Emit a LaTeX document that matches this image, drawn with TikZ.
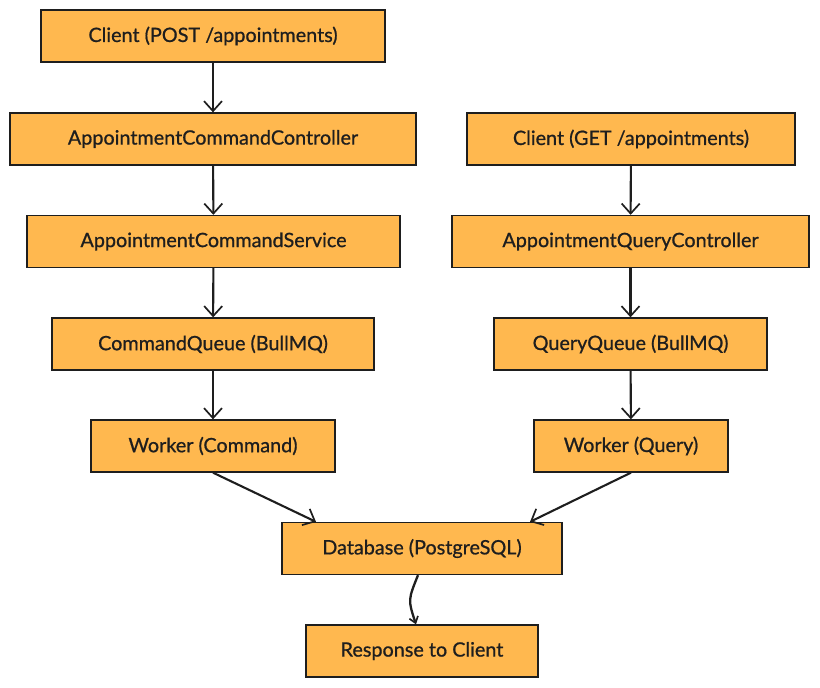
\documentclass[tikz,border=0pt]{standalone}
\usepackage{fontspec}
\newfontfamily\boxfont{Lato}[FakeBold=0.8]
\usetikzlibrary{arrows.meta}
\definecolor{boxfill}{HTML}{FFB84F}
\definecolor{ink}{HTML}{1E1E1E}
\tikzset{
  flowbox/.style={draw=ink, line width=1.3pt, fill=boxfill, minimum height=52pt, inner sep=0pt, text=ink, font=\boxfont\fontsize{19.8}{23}\selectfont},
  flowarrow/.style={draw=ink, line width=2.1pt, -{Straight Barb[length=10pt,width=18pt,line width=1.7pt]}},
}
\begin{document}
\begin{tikzpicture}[x=1pt,y=-1pt]
\useasboundingbox (0,0) rectangle (820,688);
\node[flowbox, minimum width=344pt] (c1) at (213,36) {Client (POST /appointments)};
\node[flowbox, minimum width=406pt] (cc) at (213,139) {AppointmentCommandController};
\node[flowbox, minimum width=328pt] (c2) at (631,139) {Client (GET /appointments)};
\node[flowbox, minimum width=373pt] (cs) at (213.5,241.5) {AppointmentCommandService};
\node[flowbox, minimum width=357pt] (qc) at (630.5,241.5) {AppointmentQueryController};
\node[flowbox, minimum width=322pt] (cq) at (213,344) {CommandQueue (BullMQ)};
\node[flowbox, minimum width=273pt] (qq) at (630.5,344) {QueryQueue (BullMQ)};
\node[flowbox, minimum width=244pt] (wc) at (213,446) {Worker (Command)};
\node[flowbox, minimum width=194pt] (wq) at (631,446) {Worker (Query)};
\node[flowbox, minimum width=280pt] (db) at (422,548.5) {Database (PostgreSQL)};
\node[flowbox, minimum width=232pt] (rc) at (422,651) {Response to Client};
\draw[flowarrow] (c1) -- (cc);
\draw[flowarrow] (cc) -- (cs);
\draw[flowarrow] (cs) -- (cq);
\draw[flowarrow] (cq) -- (wc);
\draw[flowarrow] (c2) -- (qc);
\draw[flowarrow] (qc) -- (qq);
\draw[flowarrow] (qq) -- (wq);
\draw[flowarrow] (wc.south) -- (db.north west -| 316,0);
\draw[flowarrow] (wq.south) -- (db.north east -| 530,0);
\draw[draw=ink, line width=2.3pt, -{Straight Barb[length=6pt,width=9pt,line width=1.7pt]}] (db.south -| 418,0) .. controls (408,600) .. (rc.north -| 416,0);
\end{tikzpicture}
\end{document}
